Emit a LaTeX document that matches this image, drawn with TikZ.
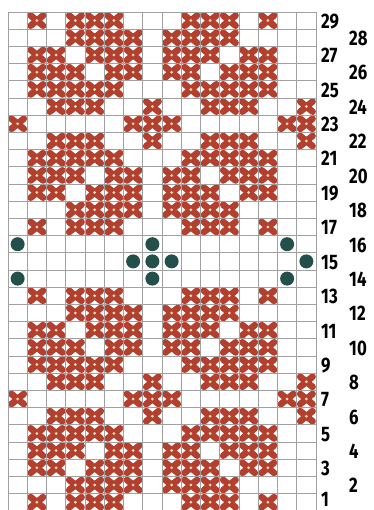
\documentclass[tikz,border=0pt]{standalone}
\usepackage{fontspec}
\usepackage{graphicx}
\newfontfamily\labfont{Fira Sans}
\definecolor{xred}{HTML}{B3402F}
\definecolor{cream}{HTML}{F3E3B0}
\definecolor{dotc}{HTML}{24504C}
\definecolor{gridc}{HTML}{A0A0A0}
\tikzset{
  xmark/.style={xred, line width=6.6pt, line cap=round},
  centerdot/.style={cream},
  gridline/.style={gridc, line width=0.9pt},
  dotmark/.style={circle, fill=dotc, draw=none, inner sep=0pt, minimum size=14pt},
  rowlab/.style={anchor=base west, inner sep=0pt, font=\labfont\bfseries\fontsize{21}{21}\selectfont},
}
\begin{document}
\begin{tikzpicture}[x=1pt,y=-1pt]
\useasboundingbox (0,0) rectangle (373,510);
\fill[white] (0,0) rectangle (373,510);
\begin{scope}
\clip (0,0) rectangle (373,510);
% stitches
\foreach \rs/\cs in {
  {29,17,13,1}/{2,4,5,6,10,11,12,14},
  {28,18,12,2}/{4,5,6,7,9,10,11,12},
  {27,19,11,3}/{2,3,5,6,7,9,10,11,13,14},
  {26,20,10,4}/{2,3,4,6,7,9,10,12,13,14},
  {25,21,9,5}/{2,3,4,5,6,10,11,12,13,14},
  {24,22,8,6}/{3,4,5,8,11,12,13,16},
  {23,7}/{1,7,8,9,15,16}}{
  \foreach \r in \rs {
    \foreach \c in \cs {
      \pgfmathsetmacro\cx{19.25*\c-1.625}
      \pgfmathsetmacro\cy{519.4-17.2*\r}
      \draw[xmark] (\cx-6.2,\cy-5.1) -- (\cx+6.2,\cy+5.1)
                   (\cx-6.2,\cy+5.1) -- (\cx+6.2,\cy-5.1);
      \fill[centerdot] (\cx,\cy) circle (1.5);
    }
  }
}
% grid
\foreach \k in {0,...,16} {
  \draw[gridline] ({8+19.25*\k},12) -- ({8+19.25*\k},512);
}
\foreach \k in {0,...,28} {
  \draw[gridline] (7.55,{12+17.2*\k}) -- (316.45,{12+17.2*\k});
}
% dots
\foreach \c/\r [count=\i] in {1/16,8/16,15/16,7/15,8/15,9/15,16/15,1/14,8/14,15/14} {
  \pgfmathsetmacro\cx{19.25*\c-1.625}
  \pgfmathsetmacro\cy{519.4-17.2*\r}
  \node[dotmark] (dot\i) at (\cx,\cy) {};
}
% row labels
\foreach \r in {1,...,29} {
  \pgfmathsetmacro\cy{min(519.4-17.2*\r+7.8,506)}
  \pgfmathtruncatemacro\odd{mod(\r,2)}
  \ifnum\odd=1
    \node[rowlab] (lab\r) at (321,\cy) {\scalebox{0.8}[1]{\r}};
  \else
    \node[rowlab] (lab\r) at (349,\cy) {\scalebox{0.8}[1]{\r}};
  \fi
}
\end{scope}
\end{tikzpicture}
\end{document}
